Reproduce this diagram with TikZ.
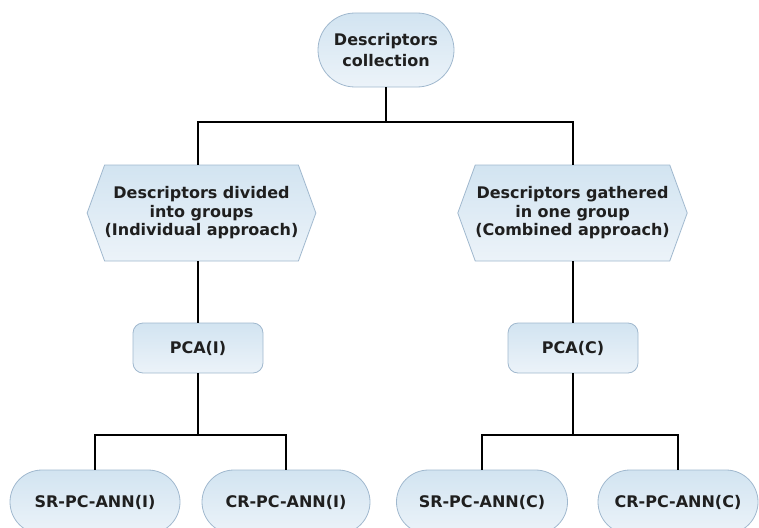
\documentclass[tikz,border=0pt]{standalone}
\usepackage{fontspec}
\setmainfont{DejaVu Sans}
\usetikzlibrary{shapes.misc,shapes.symbols}
\definecolor{edgeblue}{RGB}{160,184,206}
\definecolor{filltop}{RGB}{210,228,241}
\definecolor{fillbot}{RGB}{236,243,249}
\tikzset{
  box/.style={draw=edgeblue, line width=0.8pt, top color=filltop, bottom color=fillbot,
    font=\fontsize{16}{18.5}\selectfont\bfseries, text=black!88, align=center, inner sep=0pt},
  stadium/.style={box, rounded rectangle, rounded rectangle arc length=180},
  hexa/.style={box, signal, signal to=west and east, signal pointer angle=140},
  rbox/.style={box, rectangle, rounded corners=10pt},
  conn/.style={draw=black, line width=1.8pt}
}
\begin{document}
\begin{tikzpicture}[x=1pt,y=-1pt]
\useasboundingbox (0,0) rectangle (759,527);
\clip (0,0) rectangle (759,527);
\node[stadium, minimum width=136pt, minimum height=74pt, font=\fontsize{16}{21}\selectfont\bfseries] (top) at (386,50) {Descriptors\\collection};
\node[hexa, minimum width=200pt, minimum height=96pt] (h1) at (201.5,213) {Descriptors divided\\into groups\\(Individual approach)};
\node[hexa, minimum width=210pt, minimum height=96pt] (h2) at (572.5,213) {Descriptors gathered\\in one group\\(Combined approach)};
\node[rbox, minimum width=130pt, minimum height=50pt] (p1) at (198,348) {PCA(I)};
\node[rbox, minimum width=130pt, minimum height=50pt] (p2) at (573,348) {PCA(C)};
\node[stadium, minimum width=170pt, minimum height=64pt] (a1) at (95,502) {SR-PC-ANN(I)};
\node[stadium, minimum width=168pt, minimum height=64pt] (a2) at (286,502) {CR-PC-ANN(I)};
\node[stadium, minimum width=171pt, minimum height=64pt] (a3) at (482,502) {SR-PC-ANN(C)};
\node[stadium, minimum width=160pt, minimum height=64pt] (a4) at (678,502) {CR-PC-ANN(C)};
\coordinate (j1) at (386,122);
\coordinate (j2) at (198,435);
\coordinate (j3) at (573,435);
\draw[conn] (top.south) -- (j1);
\draw[conn] (h1.north -| p1.north) |- (j1) -| (h2.north -| p2.north);
\draw[conn] (h1.south -| p1.north) -- (p1.north);
\draw[conn] (h2.south -| p2.north) -- (p2.north);
\draw[conn] (p1.south) -- (j2);
\draw[conn] (a1.north) |- (j2) -| (a2.north);
\draw[conn] (p2.south) -- (j3);
\draw[conn] (a3.north) |- (j3) -| (a4.north);
\end{tikzpicture}
\end{document}
